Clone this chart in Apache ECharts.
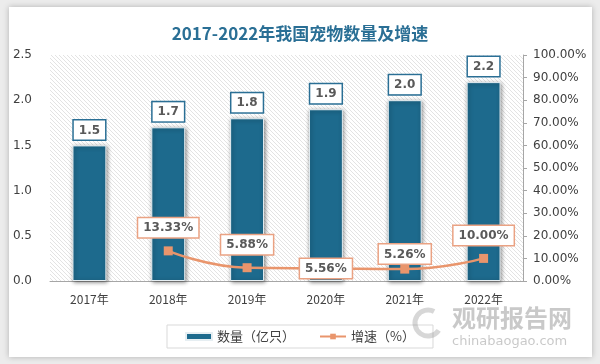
<!DOCTYPE html>
<html><head><meta charset="utf-8">
<script src="https://cdn.jsdelivr.net/npm/echarts@6/dist/echarts.min.js"></script>
<style>html,body{margin:0;padding:0;background:#ececec;}#c{width:600px;height:364px;}</style>
</head><body><div id="c"></div>
<script>
var categories = ['2017年','2018年','2019年','2020年','2021年','2022年'];
var quantity = [1.5, 1.7, 1.8, 1.9, 2.0, 2.2];
var growth = [null, 13.33, 5.88, 5.56, 5.26, 10.00];
var leftTicks = {min: 0, max: 2.5, interval: 0.5};
var rightTicks = {min: 0, max: 100, interval: 10};

var cv = document.createElement('canvas');
cv.width = 4; cv.height = 4;
var g = cv.getContext('2d');
g.fillStyle = '#ffffff'; g.fillRect(0,0,4,4);
g.strokeStyle = '#dcdcdc'; g.lineWidth = 0.8;
g.beginPath();
g.moveTo(-1,-1); g.lineTo(5,5);
g.moveTo(-1,3); g.lineTo(1,5);
g.moveTo(3,-1); g.lineTo(5,1);
g.stroke();

var FONT = '"Noto Sans CJK SC", "Noto Sans", sans-serif';
var LBL = '"DejaVu Sans", sans-serif';
var lineLabelPos = ['top','top','top','inside','top','top'];
var lineLabelDist = [9,9,9,0,1,9];

var chart = echarts.init(document.getElementById('c'), null, {renderer:'canvas'});
chart.setOption({
  animation: false,
  backgroundColor: 'transparent',
  graphic: [
    {type:'rect', shape:{x:9,y:7,width:583,height:350}, style:{fill:'#ffffff', shadowBlur:6, shadowColor:'rgba(0,0,0,0.25)'}, z:-10},
    {type:'text', left: 452, top: 306, style:{text:'观研报告网', fill:'rgba(120,120,120,0.4)', font:'bold 24px "Noto Sans CJK SC"'}, z:100},
    {type:'text', left: 452, top: 335, style:{text:'chinabaogao.com', fill:'rgba(120,120,120,0.4)', font:'13px "DejaVu Sans"'}, z:100},
    {type:'arc', shape:{cx:428, cy:323, r:13, startAngle:0.6, endAngle:5.2}, style:{fill:'none', stroke:'rgba(140,140,140,0.35)', lineWidth:5}, z:100}
  ],
  title: {
    text: '2017-2022年我国宠物数量及增速',
    left: 'center', top: 20,
    textStyle: {color:'#2a6f95', fontSize:17, fontWeight:'bold', fontFamily: FONT}
  },
  legend: {
    bottom: 16, left: 'center',
    padding: [5, 18, 5, 18],
    itemGap: 24,
    borderColor: '#d9d9d9', borderWidth: 1,
    itemWidth: 26, itemHeight: 7,
    textStyle: {color:'#404040', fontSize:13, fontFamily: FONT},
    data: [
      {name:'数量（亿只）', icon:'rect'},
      {name:'增速（%）'}
    ]
  },
  grid: {
    left: 50, right: 77, top: 55, bottom: 83,
    show: true, borderWidth: 0,
    backgroundColor: {image: cv, repeat: 'repeat'}
  },
  xAxis: {
    type: 'category', data: categories,
    axisLine: {lineStyle:{color:'#a6a6a6'}},
    axisTick: {show:false},
    axisLabel: {color:'#404040', fontSize:12, fontFamily: FONT, margin: 12}
  },
  yAxis: [
    {type:'value', min: leftTicks.min, max: leftTicks.max, interval: leftTicks.interval,
     axisLine:{show:false}, axisTick:{show:false}, splitLine:{show:false},
     axisLabel:{color:'#404040', fontSize:12, fontFamily: LBL, margin: 18, formatter: function(v){return v.toFixed(1);}}},
    {type:'value', min: rightTicks.min, max: rightTicks.max, interval: rightTicks.interval,
     axisLine:{show:true, lineStyle:{color:'#a6a6a6'}}, axisTick:{show:true, inside:false, length:4, lineStyle:{color:'#a6a6a6'}}, splitLine:{show:false},
     axisLabel:{color:'#404040', fontSize:12, fontFamily: LBL, margin: 10, formatter: function(v){return v.toFixed(2)+'%';}}}
  ],
  series: [
    {
      name: '数量（亿只）', type: 'bar', data: quantity, barWidth: '43%',
      itemStyle: {color:'#1d6a8d', borderColor:'#e6eef2', borderWidth:1, shadowBlur:4, shadowColor:'rgba(0,0,0,0.45)', shadowOffsetX:1, shadowOffsetY:1},
      label: {show:true, position:'top', distance:6, formatter: function(p){return p.value.toFixed(1);},
        color:'#595959', fontWeight:'bold', fontSize:12, fontFamily: LBL,
        backgroundColor:'#ffffff', borderColor:'#2a6f95', borderWidth:1.5, padding:[4,5,3,5]}
    },
    {
      name: '增速（%）', type: 'line', yAxisIndex: 1, smooth: true,
      data: growth.map(function(v, i){
        return {value: v, label: {position: lineLabelPos[i], distance: lineLabelDist[i]}};
      }),
      symbol: 'rect', symbolSize: 9,
      lineStyle: {color:'#e9956c', width:2.5},
      itemStyle: {color:'#e9956c'},
      label: {show:true, formatter: function(p){return p.value.toFixed(2)+'%';},
        color:'#595959', fontWeight:'bold', fontSize:12, fontFamily: LBL,
        backgroundColor:'#ffffff', borderColor:'#eaa283', borderWidth:1.5, padding:[4,5,3,5]},
      z: 5
    }
  ]
});
</script></body></html>
